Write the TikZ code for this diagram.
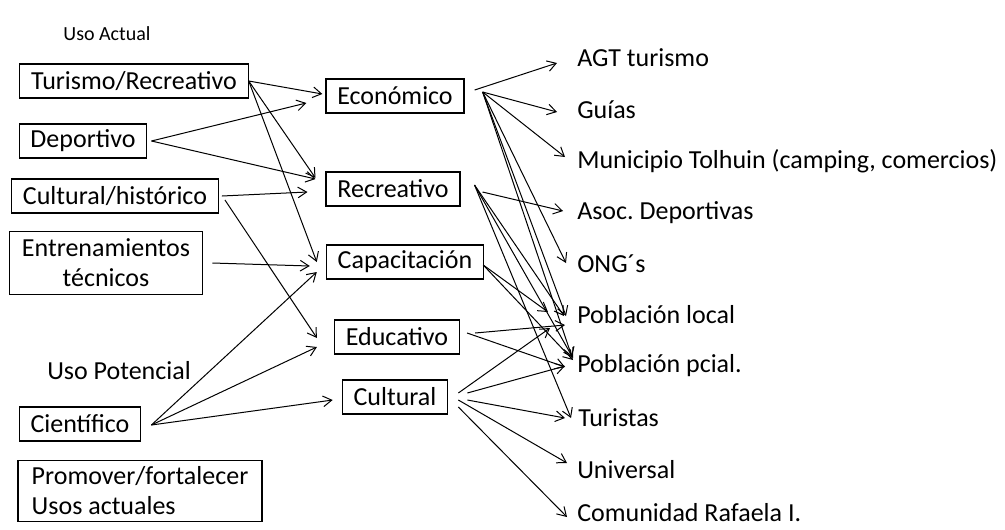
\documentclass[tikz,border=0pt]{standalone}
\usepackage{fontspec}
\setmainfont{Carlito}
\usetikzlibrary{arrows.meta}

\newcommand{\letra}{\fontsize{19.5}{22.5}\selectfont}

\tikzset{
  caja/.style={draw, line width=0.9pt, inner xsep=8.5pt, inner ysep=2.5pt, minimum height=25.5pt, font=\letra},
  etiqueta/.style={anchor=west, inner sep=0pt, font=\letra},
  flecha/.style={-{Straight Barb[length=6.5pt,width=8pt]}, line width=0.75pt}
}

\begin{document}
\begin{tikzpicture}[x=0.75pt,y=-0.75pt]
  \useasboundingbox (0,0) rectangle (1005,529);

  % usos
  \node[font=\fontsize{15}{18}\selectfont] (actual) at (107,34) {Uso Actual};
  \node[caja] (tur) at (134,81) {Turismo/Recreativo};
  \node[caja] (dep) at (83,141) {Deportivo};
  \node[caja] (cul) at (115,196) {Cultural/histórico};
  \node[caja, align=center, minimum height=47pt, minimum width=145pt] (ent) at (106,263) {Entrenamientos\\técnicos};
  \node[font=\letra] (potencial) at (119,371) {Uso Potencial};
  \node[caja] (cie) at (80,424) {Científico};
  \node[caja, align=left, minimum height=46pt, minimum width=183pt] (pro) at (140,491) {Promover/fortalecer\\Usos actuales};

  % valores
  \node[caja] (eco) at (395,96) {Económico};
  \node[caja] (rec) at (393,189) {Recreativo};
  \node[caja] (cap) at (405,262) {Capacitación};
  \node[caja] (edu) at (397,337) {Educativo};
  \node[caja] (cult) at (395,397) {Cultural};

  % actores
  \node[etiqueta] (agt) at (577,58) {AGT turismo};
  \node[etiqueta] (gui) at (577,110) {Guías};
  \node[etiqueta] (mun) at (577,161) {Municipio Tolhuin (camping, comercios)};
  \node[etiqueta] (aso) at (577,213) {Asoc.\ Deportivas};
  \node[etiqueta] (ong) at (577,264) {ONG´s};
  \node[etiqueta] (pl) at (577,315) {Población local};
  \node[etiqueta] (pp) at (577,366) {Población pcial.};
  \node[etiqueta] (tst) at (578,418) {Turistas};
  \node[etiqueta] (uni) at (577,470) {Universal};
  \node[etiqueta] (com) at (577,513) {Comunidad Rafaela I.};

  % usos -> valores
  \draw[flecha] (tur.east) -- ([shift={(-3,-2)}]eco.west);
  \draw[flecha] (tur.east) -- ([shift={(-10,-11)}]rec.west);
  \draw[flecha] (tur.east) -- ([shift={(-9,0)}]cap.west);
  \draw[flecha] ([shift={(4,0)}]dep.east) -- ([shift={(-19,7)}]eco.west);
  \draw[flecha] ([shift={(4,0)}]dep.east) -- ([shift={(-10,-10)}]rec.west);
  \draw[flecha] ([shift={(3,0)}]cul.east) -- ([shift={(-18,3)}]rec.west);
  \draw[flecha] ([shift={(6,4)}]cul.east) -- ([shift={(-17,1)}]edu.west);
  \draw[flecha] ([shift={(9,0)}]ent.east) -- ([shift={(-16,4)}]cap.west);
  \draw[flecha] ([shift={(10,1)}]cie.east) -- ([shift={(-9,10)}]cap.west);
  \draw[flecha] ([shift={(10,1)}]cie.east) -- ([shift={(-17,10)}]edu.west);
  \draw[flecha] ([shift={(10,1)}]cie.east) -- ([shift={(-9,3)}]cult.west);

  % valores -> actores
  \draw[flecha] ([shift={(10,-6)}]eco.east) -- ([shift={(-20,5)}]agt.west);
  \draw[flecha] ([shift={(18,-4)}]eco.east) -- ([shift={(-20,2)}]gui.west);
  \draw[flecha] ([shift={(18,-4)}]eco.east) -- ([shift={(-12,-4)}]mun.west);
  \draw[flecha] ([shift={(18,-4)}]eco.east) -- ([shift={(-11,-1)}]ong.west);
  \draw[flecha] ([shift={(18,-4)}]eco.east) -- ([shift={(-11,1)}]pl.west);
  \draw[flecha] ([shift={(18,-4)}]eco.east) -- ([shift={(-5,-9)}]pp.west);
  \draw[flecha] ([shift={(22,3)}]rec.east) -- ([shift={(-14,-2)}]aso.west);
  \draw[flecha] ([shift={(14,-4)}]rec.east) -- ([shift={(-13,1)}]pl.west);
  \draw[flecha] ([shift={(14,-4)}]rec.east) -- ([shift={(-4,-8)}]pp.west);
  \draw[flecha] ([shift={(14,-4)}]rec.east) -- ([shift={(-7,0)}]tst.west);
  \draw[flecha] ([shift={(-1,3)}]cap.east) -- ([shift={(-29,-3)}]pl.west);
  \draw[flecha] ([shift={(-1,3)}]cap.east) -- ([shift={(-4,-6)}]pp.west);
  \draw[flecha] ([shift={(15,-4)}]edu.east) -- ([shift={(-12,10)}]pl.west);
  \draw[flecha] ([shift={(7,-4)}]edu.east) -- ([shift={(-12,1)}]pp.west);
  \draw[flecha] ([shift={(10,-4)}]cult.east) -- ([shift={(-27,13)}]pl.west);
  \draw[flecha] ([shift={(19,-4)}]cult.east) -- ([shift={(-12,0)}]pp.west);
  \draw[flecha] ([shift={(19,3)}]cult.east) -- ([shift={(-13,0)}]tst.west);
  \draw[flecha] ([shift={(10,3)}]cult.east) -- ([shift={(-10,-7)}]uni.west);
  \draw[flecha] ([shift={(10,10)}]cult.east) -- ([shift={(-10,4)}]com.west);
\end{tikzpicture}
\end{document}
